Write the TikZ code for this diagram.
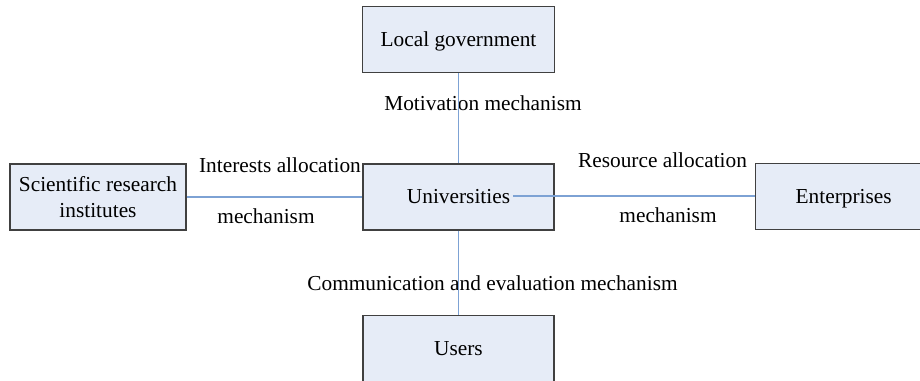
\documentclass[tikz,border=0pt]{standalone}
\usepackage{fontspec}
\setmainfont{Liberation Serif}
\definecolor{boxfill}{RGB}{230,236,247}
\definecolor{boxdraw}{RGB}{64,64,64}
\definecolor{linkblue}{RGB}{125,162,212}
\begin{document}
\begin{tikzpicture}[
                x=0.75pt,
                y=-0.75pt,
                every node/.style={
                    font=\fontsize{16}{19.5}\selectfont
                },
                block/.style={
                    rectangle,
                    draw=boxdraw,
                    fill=boxfill,
                    line width=1pt,
                    align=center,
                    minimum height=49.5pt,
                    text depth=0pt
                },
                caption/.style={
                    anchor=base,
                    inner sep=0pt
                },
                line/.style={
                    draw=linkblue,
                    line width=0.9pt
                }]

                \useasboundingbox (0,0) rectangle (920,381);

                \node [block, minimum width=144pt] (gov) at (458.5,39.5) {Local government};
                \node [block, minimum width=143.25pt] (univ) at (458.5,197) {};
                \node [caption, inner xsep=2pt] (univ_text) at (458.5,203) {Universities};
                \node [block, minimum width=132pt] (sci) at (98,197) {Scientific research\\institutes};
                \node [block, anchor=west, minimum width=132pt] (ent) at (755,196.5) {Enterprises};
                \node [block, anchor=north, minimum width=143.25pt, minimum height=56.25pt,
                       text depth=7pt] (users) at (458.5,315) {Users};

                \node [caption] (motivation) at (483,111) {Motivation mechanism};
                \node [caption] (interests) at (280,172) {Interests allocation};
                \node [caption] (interests_mech) at (266,223) {mechanism};
                \node [caption] (resource) at (662.5,167) {Resource allocation};
                \node [caption] (resource_mech) at (668,222) {mechanism};
                \node [caption] (communication) at (492.5,290) {Communication and evaluation mechanism};

                \draw [line] (gov) -- (univ);
                \draw [line] (sci) -- (univ);
                \draw [line] (univ_text.east) -- (univ_text.east -| ent.west);
                \draw [line] (univ) -- (users);

            \end{tikzpicture}
\end{document}
